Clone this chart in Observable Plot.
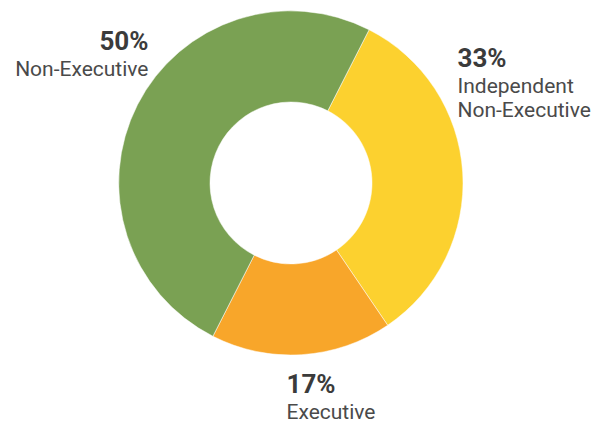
<!DOCTYPE html>
<html><head><meta charset="utf-8">
<script src="https://cdn.jsdelivr.net/npm/d3@7"></script>
<script src="https://cdn.jsdelivr.net/npm/@observablehq/plot@0.6"></script>
<style>body{margin:0;background:#fff;} svg{display:block;}</style>
</head><body><div id="chart"></div>
<script>
// ---- data ----
const categories = ["Independent Non-Executive", "Executive", "Non-Executive"];
const shares = [33, 17, 50];
const pctLabels = ["33%", "17%", "50%"];
const nameLabels = ["Independent\nNon-Executive", "Executive", "Non-Executive"];
const colors = ["#FCD12F", "#F8A62A", "#7AA153"];

// ---- layout (pixels) ----
const W = 609, H = 424;
const cx = 291, cy = 183, R = 172, r0 = 81;
const startDeg = 27;
// label anchor offsets from the donut centre (cap-top of percentage line)
const labelPos = [
  {dx: 166, dy: -135, anchor: "start"},
  {dx: -5, dy: 191, anchor: "start"},
  {dx: -143, dy: -152, anchor: "end"}
];
const nameGap = 27;

const table = categories.map((c, i) => ({category: c, share: shares[i]}));
const start = startDeg * Math.PI / 180;
const arcs = d3.pie().sort(null).value(d => d.share).startAngle(start).endAngle(start + 2 * Math.PI)(table);
const arcGen = d3.arc().innerRadius(r0).outerRadius(R);

const labels = categories.map((c, i) => ({
  category: c, pct: pctLabels[i], name: nameLabels[i],
  x: labelPos[i].dx, y: labelPos[i].dy, anchor: labelPos[i].anchor
}));
const startLabels = labels.filter(d => d.anchor === "start");
const endLabels = labels.filter(d => d.anchor === "end");

const font = "Roboto, 'Open Sans', sans-serif";
const pctStyle = {fontSize: 26, fontWeight: "bold", fill: "#3b3b3b", lineAnchor: "top", fontFamily: font};
const nameStyle = {fontSize: 21, fill: "#4a4a4a", lineAnchor: "top", lineHeight: 1.15, fontFamily: font};

const chart = Plot.plot({
  width: W, height: H, margin: 0,
  style: {background: "#fff"},
  x: {domain: [-cx, W - cx], range: [0, W], axis: null},
  y: {domain: [-cy, H - cy], range: [0, H], axis: null},
  color: {domain: categories, range: colors},
  marks: [
    Plot.dot(arcs, {
      x: () => 0, y: () => 0, fill: d => d.data.category,
      render: (index, scales, values) => {
        const g = d3.create("svg:g");
        for (const i of index) {
          g.append("path")
            .attr("transform", `translate(${values.x[i]},${values.y[i]})`)
            .attr("d", arcGen(arcs[i]))
            .attr("fill", values.fill[i])
            .attr("stroke", "#fff").attr("stroke-width", 0.5);
        }
        return g.node();
      }
    }),
    Plot.text(startLabels, {x: "x", y: "y", text: "pct", textAnchor: "start", ...pctStyle}),
    Plot.text(startLabels, {x: "x", y: d => d.y + nameGap, text: "name", textAnchor: "start", ...nameStyle}),
    Plot.text(endLabels, {x: "x", y: "y", text: "pct", textAnchor: "end", ...pctStyle}),
    Plot.text(endLabels, {x: "x", y: d => d.y + nameGap, text: "name", textAnchor: "end", ...nameStyle})
  ]
});
document.getElementById("chart").append(chart);
</script>
</body></html>
